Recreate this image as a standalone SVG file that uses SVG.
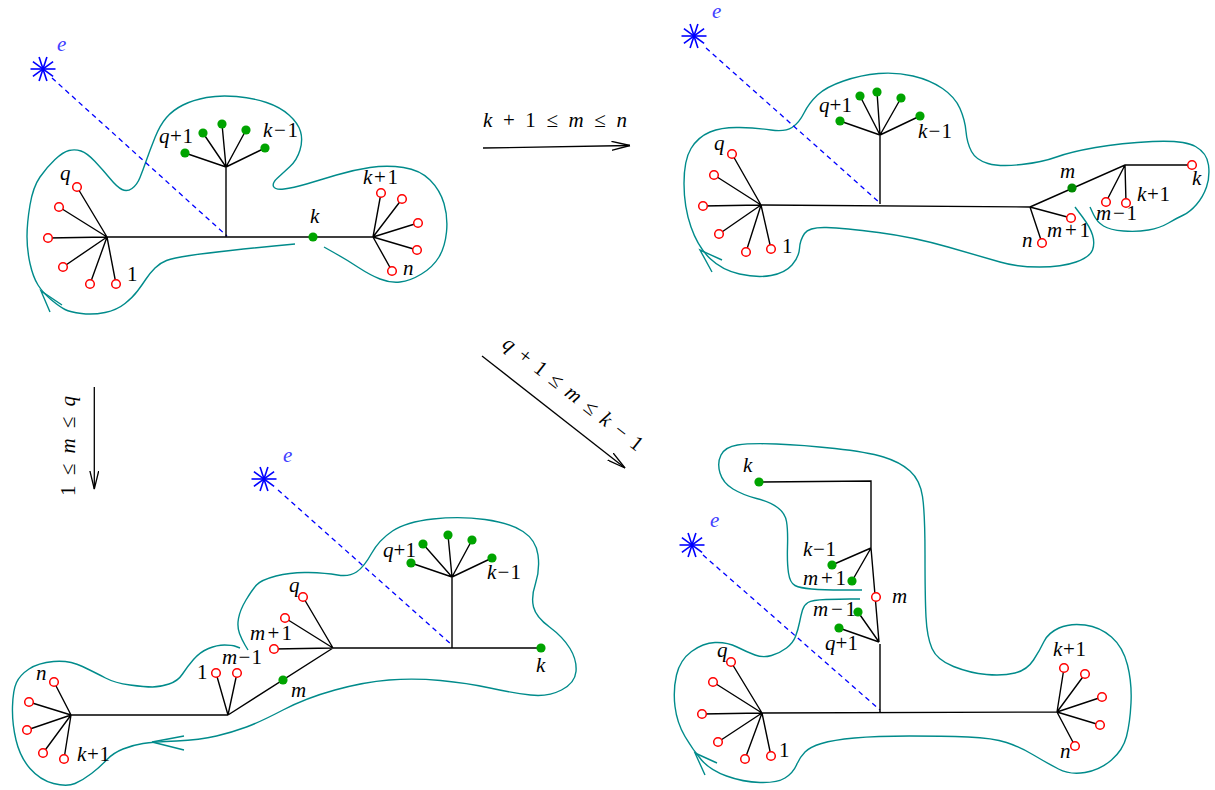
<svg xmlns="http://www.w3.org/2000/svg" xmlns:xlink="http://www.w3.org/1999/xlink" width="1215" height="790" viewBox="0 0 1215 790">
<style>
.t{stroke:#000;stroke-width:1.4;fill:none}
.d{stroke:#0000ff;stroke-width:1.3;stroke-dasharray:5 4;fill:none}
.c{stroke:#008b8b;stroke-width:1.4;fill:none}
.r{stroke:#ff0000;stroke-width:1.5;fill:#fff}
.g{fill:#00a400;stroke:none}
.s{stroke:#0000ff;stroke-width:1.6}
.lb{font-family:"Liberation Serif",serif;font-size:21px;fill:#000}
.i{font-style:italic}
.e{fill:#4040ff;font-style:italic}
.a{stroke:#000;stroke-width:1.3;fill:none}
</style>
<defs>
<g id="star">
<line class="s" x1="-12.5" y1="0" x2="12.5" y2="0"/>
<line class="s" x1="-10.1" y1="-7.3" x2="10.1" y2="7.3"/>
<line class="s" x1="-3.9" y1="-11.9" x2="3.9" y2="11.9"/>
<line class="s" x1="3.9" y1="-11.9" x2="-3.9" y2="11.9"/>
<line class="s" x1="10.1" y1="-7.3" x2="-10.1" y2="7.3"/>
</g>
<marker id="ah" markerUnits="userSpaceOnUse" viewBox="0 0 19 10" refX="18.5" refY="5" markerWidth="19" markerHeight="10" orient="auto">
<path d="M0,0.5 L18.5,5 L0,9.5" stroke="#000" stroke-width="1.3" fill="none"/>
</marker>
</defs>

<g id="panel-top-left">
<path class="c" d="M 295 244 L 274 246 Q 253 248 230.5 250.5 Q 207 253 190 255.5 Q 173 258 166.5 260.5 Q 160 263 155 268 Q 150 273 146 279 Q 142 285 137.5 291 Q 133 297 125 303.5 Q 117 310 105 312.5 Q 93 315 81.5 313.5 Q 70 312 65 309.5 Q 60 307 51.5 300 Q 43 293 38 285 Q 33 277 30 263.5 Q 27 250 27 236.5 Q 27 223 30 205 Q 33 187 40 177 Q 47 167 55 159.5 Q 63 152 69 150.5 Q 75 149 81 151 Q 87 153 95 161.5 Q 103 170 110 178.5 Q 117 187 122 189.5 Q 127 192 132 188.5 Q 137 185 140 177.5 Q 143 170 146.5 160 Q 150 150 155 137.5 Q 160 125 166.5 117.5 Q 173 110 183 105 Q 193 100 206.5 97.5 Q 220 95 236.5 96.5 Q 253 98 266.5 102.5 Q 280 107 289 115 Q 298 123 300.5 131.5 Q 303 140 300 150 Q 297 160 290 166.5 Q 283 173 277.5 178 Q 272 183 273.5 186.5 Q 275 190 284 189 Q 293 188 306.5 184 Q 320 180 336.5 175 Q 353 170 370 167.5 Q 387 165 403.5 167.5 Q 420 170 430 180 Q 440 190 444 203.5 Q 448 217 446.5 232 Q 445 247 439 257 Q 433 267 421.5 274 Q 410 281 400 282 Q 390 283 380 279 Q 370 275 358.5 267.5 Q 347 260 335.5 253.5 L 324 247"/>
<polyline class="c" points="62,305 41,291 50,312"/>
<line class="d" x1="52" y1="78" x2="227" y2="236"/>
<use xlink:href="#star" href="#star" x="43" y="69"/>
<path class="t" d="M107 237 L77 187 M107 237 L59 207 M107 237 L48 238 M107 237 L63 267 M107 237 L90 284 M107 237 L116 284 M107 237 L373 237 M226 237 L226 167 M226 167 L185 153 M226 167 L203 133 M226 167 L222 124 M226 167 L246 130 M226 167 L265 148 M373 237 L381 193 M373 237 L402 199 M373 237 L418 223 M373 237 L417 250 M373 237 L392 271"/>
<circle class="r" cx="77" cy="187" r="4.3"/><circle class="r" cx="59" cy="207" r="4.3"/><circle class="r" cx="48" cy="238" r="4.3"/><circle class="r" cx="63" cy="267" r="4.3"/><circle class="r" cx="90" cy="284" r="4.3"/><circle class="r" cx="116" cy="284" r="4.3"/>
<circle class="r" cx="381" cy="193" r="4.3"/><circle class="r" cx="402" cy="199" r="4.3"/><circle class="r" cx="418" cy="223" r="4.3"/><circle class="r" cx="417" cy="250" r="4.3"/><circle class="r" cx="392" cy="271" r="4.3"/>
<circle class="g" cx="185" cy="153" r="4.6"/><circle class="g" cx="203" cy="133" r="4.6"/><circle class="g" cx="222" cy="124" r="4.6"/><circle class="g" cx="246" cy="130" r="4.6"/><circle class="g" cx="265" cy="148" r="4.6"/><circle class="g" cx="313" cy="237" r="4.6"/>
<text class="lb e" x="57" y="51">e</text>
<text class="lb i" x="60" y="180">q</text>
<text class="lb" x="127" y="281">1</text>
<text class="lb" x="159" y="143" textLength="34"><tspan class="i">q</tspan>+1</text>
<text class="lb" x="263" y="137" textLength="35"><tspan class="i">k</tspan>−1</text>
<text class="lb" x="363" y="184" textLength="35"><tspan class="i">k</tspan>+1</text>
<text class="lb i" x="310" y="223">k</text>
<text class="lb i" x="403" y="275">n</text>
</g>

<g id="panel-top-right">
<path class="c" d="M 1075 207 L 1082.5 217 Q 1090 227 1092.5 235 Q 1095 243 1092.5 250 Q 1090 257 1076 262 Q 1062 267 1039.5 267 Q 1017 267 1000 262 Q 983 257 948 247 Q 913 237 878.5 232.5 Q 844 228 826.5 227.5 Q 809 227 804.5 233.5 Q 800 240 799.5 248.5 Q 799 257 792 265 Q 785 273 771 275.5 Q 757 278 739.5 274 Q 722 270 710 258.5 Q 698 247 691 227 Q 684 207 684 183.5 Q 684 160 691 148.5 Q 698 137 710 132 Q 722 127 739.5 127.5 Q 757 128 771 130 Q 785 132 792 127.5 Q 799 123 804 113 Q 809 103 817.5 95 Q 826 87 843.5 81 Q 861 75 878.5 73.5 Q 896 72 913 76 Q 930 80 942.5 88.5 Q 955 97 960 108.5 Q 965 120 966 131.5 Q 967 143 971.5 151.5 Q 976 160 988 163.5 Q 1000 167 1021.5 164.5 Q 1043 162 1056.5 157 Q 1070 152 1095.5 147.5 Q 1121 143 1152.5 141.5 Q 1184 140 1195.5 146.5 Q 1207 153 1208.5 165 Q 1210 177 1206.5 187 Q 1203 197 1196.5 204.5 Q 1190 212 1183.5 215 Q 1177 218 1168.5 223 Q 1160 228 1148.5 230 Q 1137 232 1123.5 231 Q 1110 230 1103.5 226 Q 1097 222 1093.5 214.5 L 1090 207"/>
<polyline class="c" points="722,260 700,250 712,272"/>
<line class="d" x1="706" y1="48" x2="880" y2="203"/>
<use xlink:href="#star" href="#star" x="694" y="36"/>
<path class="t" d="M761 205 L732 154 M761 205 L714 175 M761 205 L703 206 M761 205 L719 234 M761 205 L746 252 M761 205 L771 249 M761 205 L1030 207 M880 204 L880 135 M880 135 L840 121 M880 135 L860 96 M880 135 L877 92 M880 135 L901 98 M880 135 L920 116 M1030 207 L1125 165 L1192 165 M1125 165 L1106 202 M1125 165 L1126 203 M1030 207 L1071 218 M1030 207 L1042 243"/>
<circle class="r" cx="732" cy="154" r="4.3"/><circle class="r" cx="714" cy="175" r="4.3"/><circle class="r" cx="703" cy="206" r="4.3"/><circle class="r" cx="719" cy="234" r="4.3"/><circle class="r" cx="746" cy="252" r="4.3"/><circle class="r" cx="771" cy="249" r="4.3"/>
<circle class="r" cx="1192" cy="165" r="4.3"/><circle class="r" cx="1106" cy="202" r="4.3"/><circle class="r" cx="1126" cy="203" r="4.3"/><circle class="r" cx="1071" cy="218" r="4.3"/><circle class="r" cx="1042" cy="243" r="4.3"/>
<circle class="g" cx="840" cy="121" r="4.6"/><circle class="g" cx="860" cy="96" r="4.6"/><circle class="g" cx="877" cy="92" r="4.6"/><circle class="g" cx="901" cy="98" r="4.6"/><circle class="g" cx="920" cy="116" r="4.6"/>
<circle cx="1072" cy="188" r="4.6" fill="#008a00"/>
<text class="lb e" x="712" y="18">e</text>
<text class="lb i" x="714" y="150">q</text>
<text class="lb" x="782" y="253">1</text>
<text class="lb" x="819" y="112" textLength="33"><tspan class="i">q</tspan>+1</text>
<text class="lb" x="918" y="138" textLength="34"><tspan class="i">k</tspan>−1</text>
<text class="lb i" x="1060" y="178">m</text>
<text class="lb i" x="1192" y="185">k</text>
<text class="lb" x="1137" y="201" textLength="33"><tspan class="i">k</tspan>+1</text>
<text class="lb" x="1096" y="220" textLength="41"><tspan class="i">m</tspan>−1</text>
<text class="lb" x="1047" y="237" textLength="43"><tspan class="i">m</tspan>+1</text>
<text class="lb i" x="1022" y="247">n</text>
</g>

<g id="panel-bottom-left">
<path class="c" d="M 240 648 L 236 646.5 Q 232 645 224.5 645 Q 217 645 208.5 648.5 Q 200 652 193.5 659.5 Q 187 667 182.5 674 Q 178 681 169 684 Q 160 687 152.5 687 Q 145 687 130 685 Q 115 683 105.5 678 Q 96 673 82.5 666.5 Q 69 660 53.5 661.5 Q 38 663 29 669 Q 20 675 16.5 682.5 Q 13 690 12.5 706.5 Q 12 723 16 740 Q 20 757 30 768.5 Q 40 780 53.5 783.5 Q 67 787 75 783.5 Q 83 780 91.5 773.5 Q 100 767 106.5 760 Q 113 753 123 749 Q 133 745 143 743.5 Q 153 742 176.5 741 Q 200 740 216.5 736 Q 233 732 246.5 727 Q 260 722 283 710 Q 306 698 335 690 Q 364 682 389 680 Q 414 678 440.5 680.5 Q 467 683 490 688 Q 513 693 530.5 695 Q 548 697 561.5 690 Q 575 683 576 671.5 Q 577 660 570 648.5 Q 563 637 549.5 627 Q 536 617 533.5 607 Q 531 597 535.5 583.5 Q 540 570 538 555 Q 536 540 523 531.5 Q 510 523 485 519.5 Q 460 516 433 519 Q 406 522 392.5 531 Q 379 540 371.5 553.5 Q 364 567 356.5 572 Q 349 577 337.5 575 Q 326 573 308.5 572.5 Q 291 572 276 576 Q 261 580 256.5 585 Q 252 590 246 600 Q 240 610 238.5 618.5 Q 237 627 239.5 633.5 Q 242 640 245 645 L 248 650"/>
<polyline class="c" points="184,736 152,742 184,750"/>
<line class="d" x1="278" y1="490" x2="452" y2="645"/>
<use xlink:href="#star" href="#star" x="264" y="479"/>
<path class="t" d="M71 715 L54 682 M71 715 L29 702 M71 715 L27 730 M71 715 L43 753 M71 715 L64 759 M71 715 L228 715 M228 715 L216 673 M228 715 L237 673 M228 715 L333 648 M333 648 L303 597 M333 648 L285 618 M333 648 L274 649 M333 648 L541 648 M452 648 L452 577 M452 577 L411 563 M452 577 L423 544 M452 577 L448 535 M452 577 L472 540 M452 577 L492 558"/>
<circle class="r" cx="54" cy="682" r="4.3"/><circle class="r" cx="29" cy="702" r="4.3"/><circle class="r" cx="27" cy="730" r="4.3"/><circle class="r" cx="43" cy="753" r="4.3"/><circle class="r" cx="64" cy="759" r="4.3"/>
<circle class="r" cx="216" cy="673" r="4.3"/><circle class="r" cx="237" cy="673" r="4.3"/>
<circle class="r" cx="303" cy="597" r="4.3"/><circle class="r" cx="285" cy="618" r="4.3"/><circle class="r" cx="274" cy="649" r="4.3"/>
<circle class="g" cx="283" cy="680" r="4.6"/><circle class="g" cx="541" cy="648" r="4.6"/>
<circle class="g" cx="411" cy="563" r="4.6"/><circle class="g" cx="423" cy="544" r="4.6"/><circle class="g" cx="448" cy="535" r="4.6"/><circle class="g" cx="472" cy="540" r="4.6"/><circle class="g" cx="492" cy="558" r="4.6"/>
<text class="lb e" x="283" y="462">e</text>
<text class="lb" x="383" y="557" textLength="33"><tspan class="i">q</tspan>+1</text>
<text class="lb" x="487" y="579" textLength="34"><tspan class="i">k</tspan>−1</text>
<text class="lb i" x="289" y="592">q</text>
<text class="lb" x="250" y="640" textLength="42"><tspan class="i">m</tspan>+1</text>
<text class="lb" x="222" y="664" textLength="40"><tspan class="i">m</tspan>−1</text>
<text class="lb" x="197" y="679">1</text>
<text class="lb i" x="291" y="697">m</text>
<text class="lb i" x="536" y="672">k</text>
<text class="lb i" x="36" y="680">n</text>
<text class="lb" x="77" y="761" textLength="33"><tspan class="i">k</tspan>+1</text>
</g>

<g id="panel-bottom-right">
<path class="c" d="M 862 590 L 842.5 590 Q 823 590 811.5 589 Q 800 588 795 585.5 Q 790 583 788.5 573 Q 787 563 787.5 546.5 Q 788 530 786.5 521.5 Q 785 513 777.5 507.5 Q 770 502 756.5 498.5 Q 743 495 733 489 Q 723 483 720 473 Q 717 463 721 455 Q 725 447 737.5 445 Q 750 443 776.5 444 Q 803 445 835 448.5 Q 867 452 883.5 457 Q 900 462 910 471 Q 920 480 922.5 496.5 Q 925 513 925 555 Q 925 597 926 617 Q 927 637 932 648.5 Q 937 660 953.5 666.5 Q 970 673 986.5 674.5 Q 1003 676 1015 673 Q 1027 670 1033.5 660 Q 1040 650 1044 641.5 Q 1048 633 1059 628 Q 1070 623 1085 625 Q 1100 627 1111.5 637 Q 1123 647 1127.5 665 Q 1132 683 1131 703 Q 1130 723 1126.5 736.5 Q 1123 750 1111.5 760 Q 1100 770 1085 772.5 Q 1070 775 1058.5 769 Q 1047 763 1033.5 755 Q 1020 747 1006.5 742.5 Q 993 738 968 737 Q 943 736 909.5 736 Q 876 736 854.5 738 Q 833 740 821.5 743.5 Q 810 747 805 752 Q 800 757 796.5 765 Q 793 773 785 778 Q 777 783 760 782.5 Q 743 782 726.5 776 Q 710 770 701.5 760 Q 693 750 685 736.5 Q 677 723 675 706.5 Q 673 690 676.5 675 Q 680 660 691.5 651.5 Q 703 643 715 642.5 Q 727 642 737 647 Q 747 652 755 655 Q 763 658 771.5 655.5 Q 780 653 786.5 648 Q 793 643 795.5 636.5 Q 798 630 799.5 622.5 Q 801 615 802.5 610 Q 804 605 808 602.5 Q 812 600 826 599.5 Q 840 599 850 599 L 860 599"/>
<polyline class="c" points="717,763 695,753 705,775"/>
<line class="d" x1="703" y1="555" x2="880" y2="710"/>
<use xlink:href="#star" href="#star" x="692" y="545"/>
<path class="t" d="M762 713 L731 662 M762 713 L713 682 M762 713 L702 714 M762 713 L718 742 M762 713 L745 759 M762 713 L771 756 M762 713 L1057 712 M880 712 L880 644 M879 642 L858 612 M879 642 L839 628 M879 642 L871 548 M871 548 L832 565 M871 548 L852 581 M871 548 L871 481 L759 482 M1057 712 L1064 668 M1057 712 L1085 674 M1057 712 L1102 697 M1057 712 L1100 725 M1057 712 L1075 746"/>
<circle class="r" cx="731" cy="662" r="4.3"/><circle class="r" cx="713" cy="682" r="4.3"/><circle class="r" cx="702" cy="714" r="4.3"/><circle class="r" cx="718" cy="742" r="4.3"/><circle class="r" cx="745" cy="759" r="4.3"/><circle class="r" cx="771" cy="756" r="4.3"/>
<circle class="r" cx="1064" cy="668" r="4.3"/><circle class="r" cx="1085" cy="674" r="4.3"/><circle class="r" cx="1102" cy="697" r="4.3"/><circle class="r" cx="1100" cy="725" r="4.3"/><circle class="r" cx="1075" cy="746" r="4.3"/>
<circle class="r" cx="876" cy="597" r="4.3"/>
<circle class="g" cx="858" cy="612" r="4.6"/><circle class="g" cx="839" cy="628" r="4.6"/><circle class="g" cx="832" cy="565" r="4.6"/><circle class="g" cx="852" cy="581" r="4.6"/><circle class="g" cx="759" cy="482" r="4.6"/>
<text class="lb e" x="710" y="527">e</text>
<text class="lb i" x="743" y="472">k</text>
<text class="lb" x="803" y="556" textLength="33"><tspan class="i">k</tspan>−1</text>
<text class="lb" x="803" y="585" textLength="43"><tspan class="i">m</tspan>+1</text>
<text class="lb i" x="892" y="603">m</text>
<text class="lb" x="813" y="616" textLength="43"><tspan class="i">m</tspan>−1</text>
<text class="lb" x="825" y="650" textLength="33"><tspan class="i">q</tspan>+1</text>
<text class="lb i" x="717" y="657">q</text>
<text class="lb" x="779" y="757">1</text>
<text class="lb" x="1053" y="656" textLength="33"><tspan class="i">k</tspan>+1</text>
<text class="lb i" x="1060" y="758">n</text>
</g>

<g id="connectors">
<line class="a" x1="483" y1="148" x2="630" y2="145.5" marker-end="url(#ah)"/>
<text class="lb" x="483" y="127" textLength="144"><tspan class="i">k</tspan> + 1 ≤ <tspan class="i">m</tspan> ≤ <tspan class="i">n</tspan></text>
<line class="a" x1="94.3" y1="387" x2="94.3" y2="489" marker-end="url(#ah)"/>
<text class="lb" transform="translate(75,446) rotate(-90)" text-anchor="middle" textLength="100">1 ≤ <tspan class="i">m</tspan> ≤ <tspan class="i">q</tspan></text>
<line class="a" x1="482" y1="356" x2="625" y2="468" marker-end="url(#ah)"/>
<text class="lb" transform="translate(569,399) rotate(38.1)" text-anchor="middle" textLength="172"><tspan class="i">q</tspan> + 1 ≤ <tspan class="i">m</tspan> ≤ <tspan class="i">k</tspan> − 1</text>
</g>
</svg>
